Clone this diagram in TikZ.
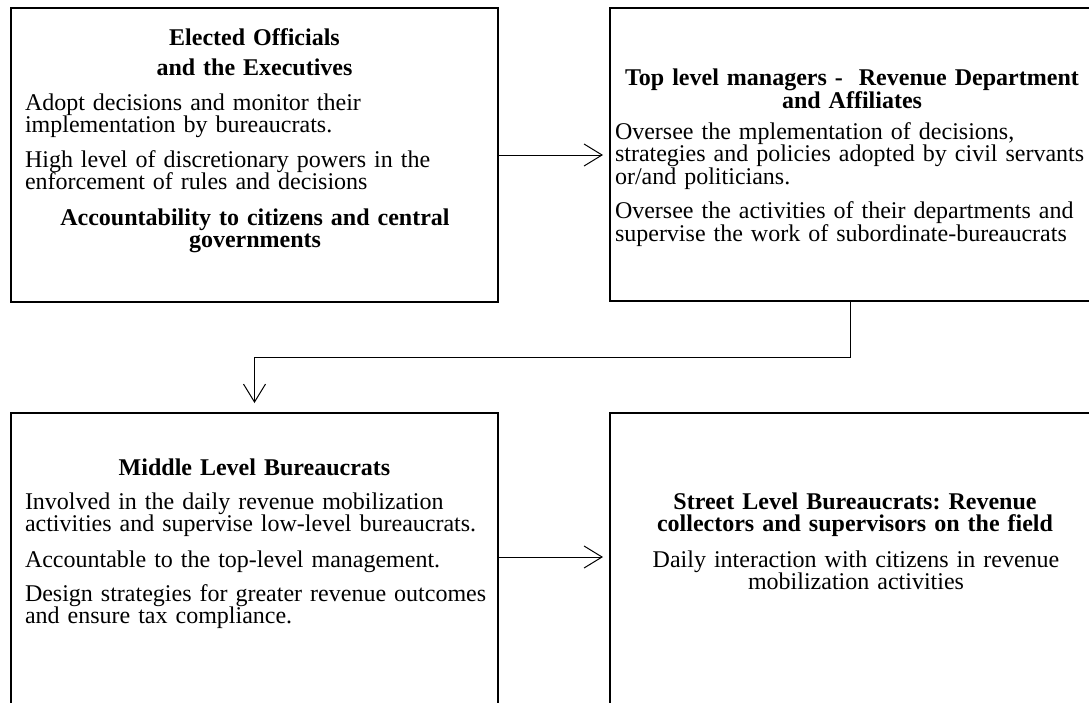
\documentclass[tikz,border=0pt]{standalone}
\usepackage{fontspec}
\setmainfont{Liberation Serif}
\usetikzlibrary{arrows.meta}
\frenchspacing
\begin{document}
\begin{tikzpicture}[x=1pt,y=-1pt,
  box/.style={draw, line width=2.4pt, rectangle, inner sep=0pt, outer sep=0pt},
  body/.style={inner sep=0pt, outer sep=0pt, anchor=base west, align=left,
    text width=480pt, font=\fontsize{24}{22.5}\selectfont},
  head/.style={inner sep=0pt, outer sep=0pt, anchor=base, align=center,
    text width=480pt, font=\bfseries\fontsize{24}{22.5}\selectfont},
  link/.style={line width=1pt, -{Straight Barb[length=18pt,width=22pt,line width=1pt]}}
]
\useasboundingbox (0,0) rectangle (1089,702);
\clip (0,0) rectangle (1089,702);

% the four boxes (right and lower parts run off the page)
\node[box, minimum width=487pt, minimum height=294pt] (b1) at (254.5,155) {};
\node[box, minimum width=490pt, minimum height=293pt] (b2) at (855,154.5) {};
\node[box, minimum width=487pt, minimum height=307pt] (b3) at (254.5,566.5) {};
\node[box, minimum width=490pt, minimum height=307pt] (b4) at (855,566.5) {};

% box 1
\node[head, font=\bfseries\fontsize{24}{30}\selectfont] (h1) at (254.5,45)
  {Elected Officials\\and the Executives};
\node[body] (p1a) at (25,110) {Adopt decisions and monitor their\\implementation by bureaucrats.};
\node[body] (p1b) at (25,167) {High level of discretionary powers in the\\enforcement of rules and decisions};
\node[head] (p1c) at (255,225) {Accountability to citizens and central\\governments};

% box 2
\node[head, font=\bfseries\fontsize{24}{18}\selectfont] (h2) at (852,85)
  {Top level managers - \ Revenue Department\\and Affiliates};
\node[body, font=\fontsize{24}{21.5}\selectfont] (p2a) at (615,139)
  {Oversee the mplementation of decisions,\\strategies and policies adopted by civil servants\\or/and politicians.};
\node[body, font=\fontsize{24}{22}\selectfont] (p2b) at (615,218)
  {Oversee the activities of their departments and\\supervise the work of subordinate-bureaucrats};

% box 3
\node[head] (h3) at (254.5,475) {Middle Level Bureaucrats};
\node[body, font=\fontsize{24}{22}\selectfont] (p3a) at (25,509)
  {Involved in the daily revenue mobilization\\activities and supervise low-level bureaucrats.};
\node[body] (p3b) at (25,567) {Accountable to the top-level management.};
\node[body, font=\fontsize{24}{22}\selectfont] (p3c) at (25,601)
  {Design strategies for greater revenue outcomes\\and ensure tax compliance.};

% box 4
\node[head, font=\bfseries\fontsize{24}{22}\selectfont] (h4) at (855,509)
  {Street Level Bureaucrats: Revenue\\collectors and supervisors on the field};
\node[head, font=\fontsize{24}{22}\selectfont] (p4a) at (856,567)
  {Daily interaction with citizens in revenue\\mobilization activities};

% connectors
\coordinate (bend) at (850,357);
\coordinate (lvl) at (0,557);
\draw[link, shorten >=7pt] (b1.east) -- (b2.west |- b1.east);
\draw[link, shorten >=10pt] (b2.south -| bend) -- (bend) -| (b3.north);
\draw[link, shorten >=7pt] (b3.east |- lvl) -- (b4.west |- lvl);
\end{tikzpicture}
\end{document}
